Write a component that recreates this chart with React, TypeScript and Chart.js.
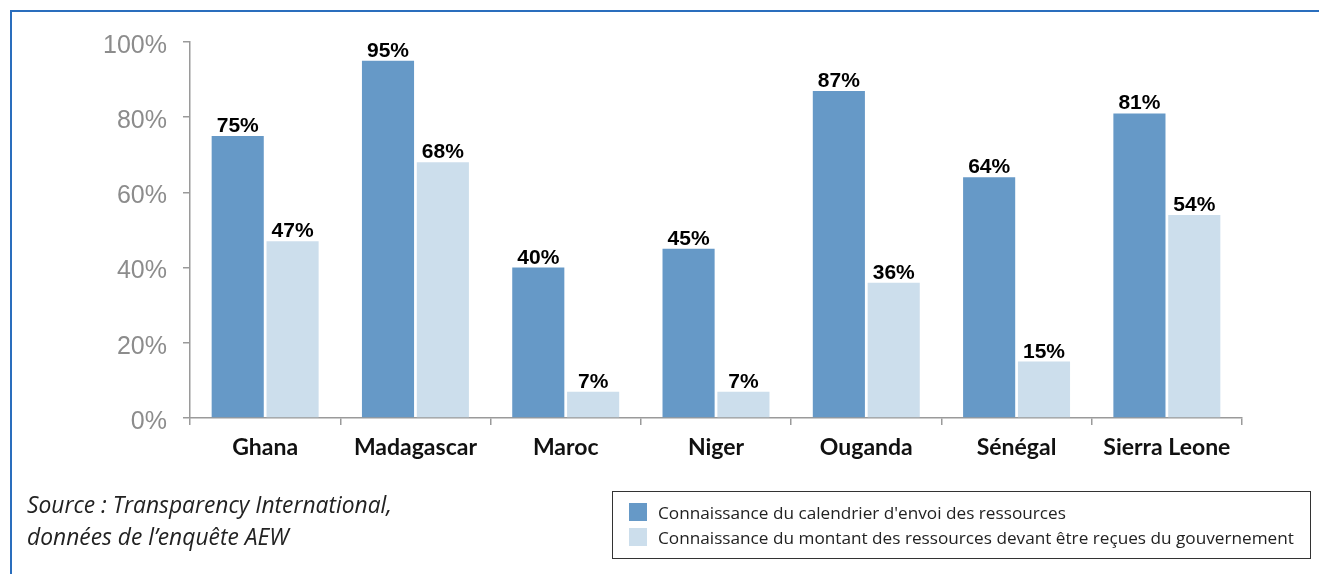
import React, { useEffect, useRef } from "react";
import { Chart, registerables } from "chart.js";

Chart.register(...registerables);

const categories = ["Ghana", "Madagascar", "Maroc", "Niger", "Ouganda", "Sénégal", "Sierra Leone"];
const seriesCalendrier = [75, 95, 40, 45, 87, 64, 81];
const seriesMontant = [47, 68, 7, 7, 36, 15, 54];
const seriesNames = [
  "Connaissance du calendrier d'envoi des ressources",
  "Connaissance du montant des ressources devant être reçues du gouvernement",
];
const yTicks = [0, 20, 40, 60, 80, 100];
const sourceLines = ["Source : Transparency International,", "données de l’enquête AEW"];

const DARK = "#6699C7";
const LIGHT = "#CCDEEC";
const AXIS = "#9a9a9a";

const valueLabels = {
  id: "valueLabels",
  afterDatasetsDraw(chart: any) {
    const ctx = chart.ctx;
    ctx.save();
    ctx.font = "bold 21px 'Liberation Sans', Arial, sans-serif";
    ctx.fillStyle = "#000";
    ctx.textAlign = "center";
    ctx.textBaseline = "alphabetic";
    chart.data.datasets.forEach((ds: any, i: number) => {
      const meta = chart.getDatasetMeta(i);
      meta.data.forEach((bar: any, j: number) => {
        ctx.fillText(ds.data[j] + "%", bar.x, bar.y - 4);
      });
    });
    ctx.restore();
  },
};

export default function App() {
  const ref = useRef<HTMLCanvasElement>(null);
  useEffect(() => {
    if (!ref.current) return;
    const chart = new Chart(ref.current, {
      type: "bar",
      data: {
        labels: categories,
        datasets: [
          { label: seriesNames[0], data: seriesCalendrier, backgroundColor: DARK },
          { label: seriesNames[1], data: seriesMontant, backgroundColor: LIGHT },
        ],
      },
      options: {
        animation: false,
        responsive: false,
        maintainAspectRatio: false,
        layout: { padding: { left: 0, right: 77, top: 42, bottom: 0 } },
        datasets: { bar: { categoryPercentage: 0.73, barPercentage: 0.95 } },
        plugins: { legend: { display: false }, tooltip: { enabled: false } },
        scales: {
          x: {
            afterFit(scale: any) {
              scale.height = 156;
            },
            grid: {
              offset: true,
              drawOnChartArea: false,
              drawTicks: true,
              tickLength: 7,
              color: AXIS,
              lineWidth: 1.5,
            },
            border: { display: true, color: AXIS, width: 1.5 },
            ticks: {
              color: "#111",
              padding: 9,
              font: { family: "Lato, 'Noto Sans', sans-serif", size: 23, weight: "bold" },
            },
          },
          y: {
            min: 0,
            max: 100,
            afterFit(scale: any) {
              scale.width = 190;
            },
            afterBuildTicks(scale: any) {
              scale.ticks = yTicks.map((v) => ({ value: v }));
            },
            grid: {
              drawOnChartArea: false,
              drawTicks: true,
              tickLength: 7,
              color: AXIS,
              lineWidth: 1.5,
            },
            border: { display: true, color: AXIS, width: 1.5 },
            ticks: {
              color: "#8c8c8c",
              padding: 16,
              labelOffset: 4,
              font: { family: "'Liberation Sans', Arial, sans-serif", size: 25 },
              callback: (v: any) => v + "%",
            },
          },
        },
      },
      plugins: [valueLabels],
    });
    return () => chart.destroy();
  }, []);

  return (
    <div style={{ position: "fixed", left: 0, top: 0, width: 1319, height: 574, background: "#fff", overflow: "hidden" }}>
      <div
        style={{
          position: "absolute",
          left: 10,
          top: 10,
          width: 1400,
          height: 700,
          borderTop: "2px solid #2a6ebd",
          borderLeft: "2px solid #2a6ebd",
        }}
      />
      <canvas ref={ref} width={1319} height={574} style={{ position: "absolute", left: 0, top: 0 }} />
      <div
        style={{
          position: "absolute",
          left: 27,
          top: 489,
          fontFamily: "'Open Sans', 'Noto Sans', sans-serif",
          fontStyle: "italic",
          fontSize: 22.8,
          lineHeight: "32px",
          color: "#222",
          whiteSpace: "nowrap",
        }}
      >
        {sourceLines.map((l) => (
          <div key={l}>{l}</div>
        ))}
      </div>
      <div
        style={{
          position: "absolute",
          left: 612,
          top: 491,
          width: 697,
          height: 66,
          border: "1px solid #333",
          fontFamily: "'Open Sans', 'Noto Sans', sans-serif",
          fontSize: 17.2,
          color: "#222",
        }}
      >
        {seriesNames.map((n, i) => (
          <div
            key={n}
            style={{ position: "absolute", left: 16, top: 11 + i * 25, height: 18, display: "flex", alignItems: "center", whiteSpace: "nowrap" }}
          >
            <span style={{ display: "inline-block", width: 18, height: 18, background: i === 0 ? DARK : LIGHT, marginRight: 11 }} />
            <span>{n}</span>
          </div>
        ))}
      </div>
    </div>
  );
}
